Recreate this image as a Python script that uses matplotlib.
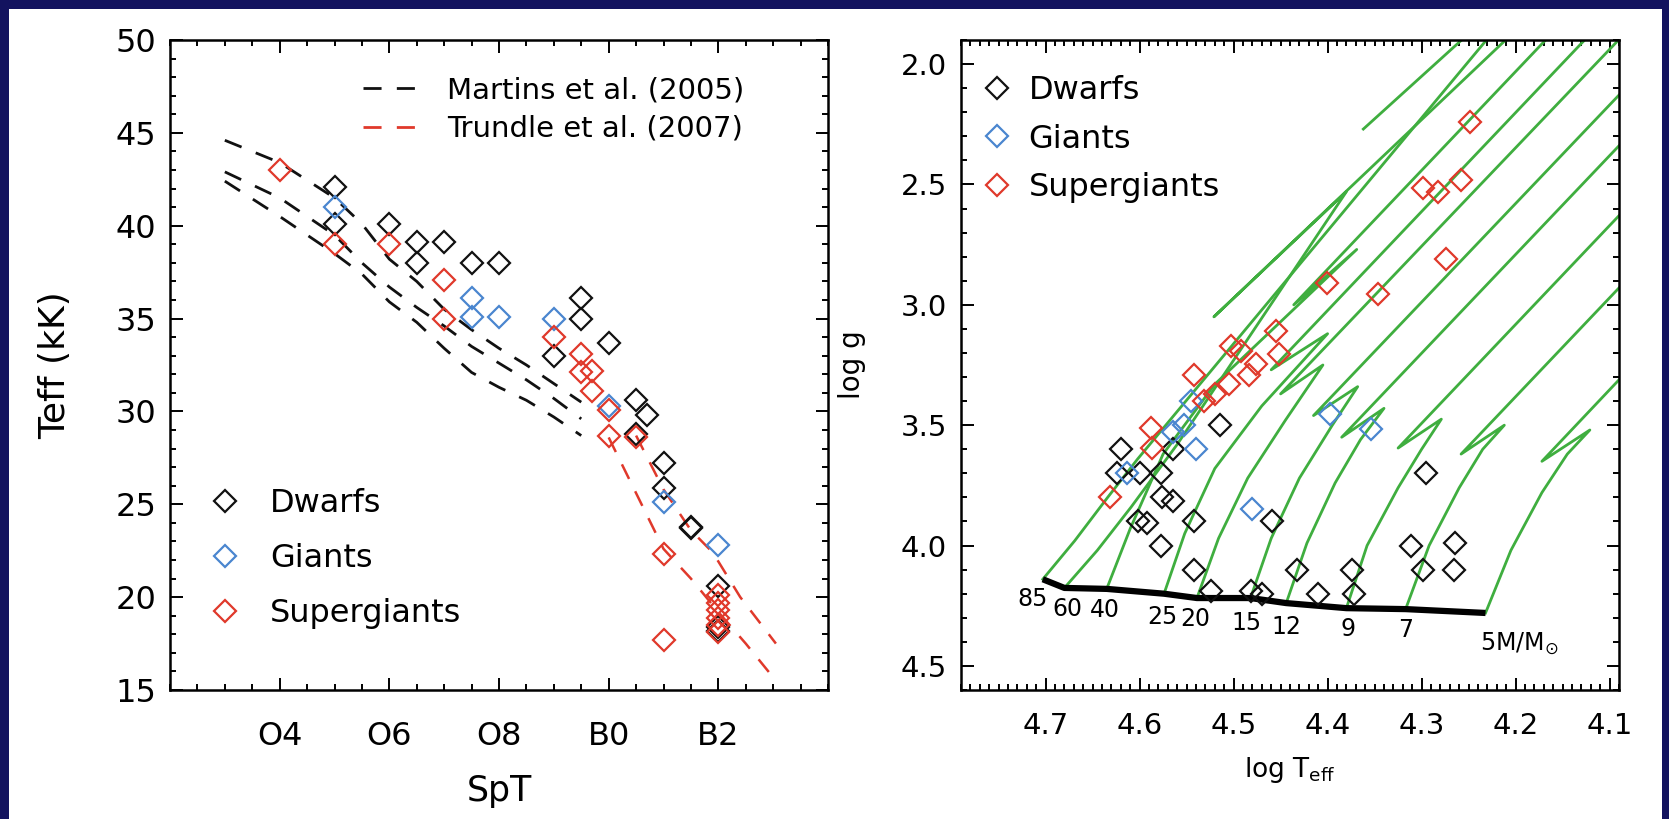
import matplotlib.pyplot as plt
from matplotlib.lines import Line2D
from matplotlib.patches import Rectangle
from matplotlib.ticker import MultipleLocator, FixedLocator, FixedFormatter, FormatStrFormatter

plt.rcParams['font.family'] = ['DejaVu Sans']
plt.rcParams['mathtext.fontset'] = 'dejavusans'

BLACK = '#111111'
BLUE = '#4a86cf'
RED = '#e0392b'
GREEN = '#3fae3f'
NAVY = '#13135f'

# ---- left panel: Teff (kK) against spectral type (O2=2 ... B0=10 ... B4=14)
spt_ticks = [4, 6, 8, 10, 12]
spt_labels = ['O4', 'O6', 'O8', 'B0', 'B2']

dwarf_spt = [5, 5, 6, 6.5, 6.5, 7, 7.5, 8, 9, 9.5, 9.5, 10, 10.5, 10.5, 10.7,
             11, 11, 11.5, 11.5, 12, 12, 12]
dwarf_teff = [42.1, 40.1, 40.1, 39.1, 38.0, 39.1, 38.0, 38.0, 33.0, 36.1, 35.0,
              33.7, 30.6, 28.8, 29.8, 27.2, 25.9, 23.8, 23.7, 20.6, 18.4, 18.2]

giant_spt = [5, 7.5, 7.5, 8, 9, 10, 11, 12]
giant_teff = [41.0, 36.1, 35.1, 35.1, 35.0, 30.3, 25.1, 22.8]

sg_spt = [4, 5, 6, 7, 7, 9, 9.5, 9.5, 9.7, 9.7, 10, 10, 10.5, 11, 11,
          12, 12, 12, 12, 12, 12]
sg_teff = [43.0, 39.0, 39.0, 37.1, 35.0, 34.0, 33.1, 32.1, 32.2, 31.1, 30.1,
           28.7, 28.6, 22.3, 17.7, 20.1, 19.7, 19.3, 18.9, 18.5, 18.1]

# Martins et al. (2005) calibrations
martins_spt = [3, 4, 5, 5.5, 6, 6.5, 7, 7.5, 8, 8.5, 9, 9.5]
martins_v = [44.6, 43.4, 41.5, 40.1, 38.2, 37.0, 35.5, 34.4, 33.4, 32.5, 31.5, 30.5]
martins_iii = [42.9, 41.5, 39.5, 38.0, 36.7, 35.6, 34.6, 33.5, 32.6, 31.7, 30.7, 29.6]
martins_i = [42.4, 40.5, 38.5, 37.4, 35.9, 34.8, 33.4, 32.1, 31.3, 30.6, 29.7, 28.7]

# Trundle et al. (2007) calibrations
trundle_a_spt = [10.5, 11.0, 11.5, 11.9, 12.4, 13.05]
trundle_a_teff = [28.7, 25.8, 23.6, 22.4, 20.0, 17.5]
trundle_b_spt = [10.0, 10.5, 11.0, 11.5, 12.0, 12.5, 13.05]
trundle_b_teff = [28.6, 25.6, 22.6, 21.0, 19.2, 17.5, 15.5]

# ---- right panel: log g against log Teff
dw_logt = [4.620, 4.565, 4.515, 4.624, 4.600, 4.577, 4.576, 4.565, 4.602, 4.592,
           4.542, 4.577, 4.542, 4.524, 4.482, 4.470, 4.459, 4.433, 4.410, 4.374,
           4.372, 4.311, 4.298, 4.264, 4.266, 4.295]
dw_logg = [3.60, 3.60, 3.50, 3.70, 3.70, 3.70, 3.80, 3.815, 3.90, 3.905,
           3.90, 4.00, 4.10, 4.19, 4.19, 4.20, 3.90, 4.10, 4.20, 4.10,
           4.20, 4.00, 4.10, 3.99, 4.10, 3.70]

gi_logt = [4.613, 4.540, 4.553, 4.545, 4.565, 4.397, 4.354, 4.480]
gi_logg = [3.70, 3.60, 3.50, 3.40, 3.53, 3.455, 3.517, 3.85]

sg_logt = [4.248, 4.298, 4.283, 4.258, 4.274, 4.346, 4.401, 4.455, 4.452, 4.492,
           4.503, 4.476, 4.484, 4.505, 4.542, 4.520, 4.531, 4.588, 4.587, 4.632]
sg_logg = [2.24, 2.516, 2.53, 2.48, 2.81, 2.957, 2.91, 3.11, 3.205, 3.19,
           3.17, 3.247, 3.29, 3.33, 3.29, 3.37, 3.40, 3.51, 3.595, 3.80]

# evolutionary tracks (first point = ZAMS)
t85_logt = [4.703, 4.669, 4.634, 4.602, 4.150, 4.362]
t85_logg = [4.140, 3.980, 3.800, 3.640, 1.520, 2.270]
t60_logt = [4.680, 4.645, 4.609, 4.560, 4.380, 4.521, 4.100]
t60_logg = [4.176, 4.020, 3.840, 3.580, 2.530, 3.050, 1.490]
t40_logt = [4.635, 4.610, 4.575, 4.520, 4.369, 4.436, 4.000]
t40_logg = [4.180, 3.930, 3.620, 3.330, 2.770, 3.000, 1.210]
t25_logt = [4.574, 4.552, 4.520, 4.470, 4.400, 4.460, 4.000]
t25_logg = [4.200, 3.950, 3.680, 3.420, 3.120, 3.270, 1.380]
t20_logt = [4.539, 4.516, 4.485, 4.445, 4.405, 4.450, 4.000]
t20_logg = [4.218, 3.970, 3.720, 3.480, 3.250, 3.370, 1.530]
t15_logt = [4.482, 4.460, 4.430, 4.395, 4.368, 4.415, 4.000]
t15_logg = [4.218, 3.970, 3.720, 3.500, 3.340, 3.460, 1.760]
t12_logt = [4.444, 4.422, 4.392, 4.365, 4.340, 4.385, 4.000]
t12_logg = [4.239, 3.990, 3.740, 3.560, 3.430, 3.550, 1.970]
t9_logt = [4.380, 4.358, 4.325, 4.300, 4.279, 4.325, 4.000]
t9_logg = [4.260, 4.000, 3.760, 3.600, 3.475, 3.595, 2.260]
t7_logt = [4.317, 4.292, 4.260, 4.235, 4.212, 4.258, 4.000]
t7_logg = [4.264, 4.000, 3.760, 3.600, 3.500, 3.620, 2.560]
t5_logt = [4.232, 4.205, 4.172, 4.145, 4.121, 4.172, 4.000]
t5_logg = [4.280, 4.020, 3.780, 3.620, 3.520, 3.650, 2.940]

mass_labels = ['85', '60', '40', '25', '20', '15', '12', '9', '7', r'5M/M$_{\odot}$']

tracks = [(t85_logt, t85_logg), (t60_logt, t60_logg), (t40_logt, t40_logg),
          (t25_logt, t25_logg), (t20_logt, t20_logg), (t15_logt, t15_logg),
          (t12_logt, t12_logg), (t9_logt, t9_logg), (t7_logt, t7_logg),
          (t5_logt, t5_logg)]

fig = plt.figure(figsize=(16.69, 8.19), dpi=100)
fig.patch.set_facecolor(NAVY)
fig.add_artist(Rectangle((9 / 1669, 0), (1669 - 16) / 1669, (819 - 9) / 819,
                         transform=fig.transFigure, facecolor='white',
                         edgecolor='none', zorder=-1))

ax1 = fig.add_axes([170 / 1669, 1 - 690 / 819, 658 / 1669, 650 / 819])
ax2 = fig.add_axes([961 / 1669, 1 - 690 / 819, 658 / 1669, 650 / 819])

dash = (6.5, 5.5)
mk = dict(ls='none', marker='D', ms=11.5, mfc='none', mew=1.6)

# left panel
for teff in (martins_v, martins_iii, martins_i):
    ax1.plot(martins_spt, teff, color=BLACK, lw=2.0, dashes=dash)
ax1.plot(trundle_a_spt, trundle_a_teff, color=RED, lw=1.8, dashes=dash)
ax1.plot(trundle_b_spt, trundle_b_teff, color=RED, lw=1.8, dashes=dash)

ax1.plot(dwarf_spt, dwarf_teff, mec=BLACK, **mk)
ax1.plot(giant_spt, giant_teff, mec=BLUE, **mk)
ax1.plot(sg_spt, sg_teff, mec=RED, **mk)

ax1.set_xlim(2, 14)
ax1.set_ylim(15, 50)
ax1.xaxis.set_major_locator(FixedLocator(spt_ticks))
ax1.xaxis.set_major_formatter(FixedFormatter(spt_labels))
ax1.xaxis.set_minor_locator(MultipleLocator(0.5))
ax1.yaxis.set_major_locator(MultipleLocator(5))
ax1.yaxis.set_minor_locator(MultipleLocator(1))
ax1.tick_params(axis='x', which='major', pad=22)
ax1.tick_params(axis='y', which='major', pad=10)
ax1.tick_params(which='both', labelsize=23)
ax1.set_xlabel('SpT', fontsize=25)
ax1.set_ylabel('Teff (kK)', fontsize=26)
ax1.xaxis.set_label_coords(0.5, -0.13)
ax1.yaxis.set_label_coords(-0.148, 0.5)

line_handles = [Line2D([], [], color=BLACK, lw=2.0, dashes=dash),
                Line2D([], [], color=RED, lw=2.0, dashes=dash)]
leg1 = ax1.legend(line_handles, ['Martins et al. (2005)', 'Trundle et al. (2007)'],
                  loc='upper left', bbox_to_anchor=(0.293, 0.944), frameon=False,
                  fontsize=21, handlelength=2.2, handletextpad=0.7,
                  labelspacing=0.36, borderpad=0, borderaxespad=0)
ax1.add_artist(leg1)

sym_handles = [Line2D([], [], mec=c, **mk) for c in (BLACK, BLUE, RED)]
ax1.legend(sym_handles, ['Dwarfs', 'Giants', 'Supergiants'], loc='upper left',
           bbox_to_anchor=(0.06, 0.31), frameon=False, fontsize=23,
           handlelength=1.0, handletextpad=0.9, labelspacing=0.74,
           borderpad=0, borderaxespad=0, numpoints=1)

# right panel
for logt, logg in tracks:
    ax2.plot(logt, logg, color=GREEN, lw=2.0, zorder=2)

zams_logt = [t[0] for t, g in tracks]
zams_logg = [g[0] for t, g in tracks]
ax2.plot(zams_logt, zams_logg, color='black', lw=4.5, solid_capstyle='butt', zorder=3)

label_offsets = [(-7, -14), (2, -15), (-1, -15), (-1, -17), (-1, -15),
                 (-3, -18), (0, -17), (1, -15), (0, -15), (-4, -22)]
for lab, x, y, off in zip(mass_labels, zams_logt, zams_logg, label_offsets):
    ax2.annotate(lab, (x, y), xytext=off, textcoords='offset points',
                 ha='left' if lab.startswith('5M') else 'center', va='center',
                 fontsize=17, zorder=4)

ax2.plot(dw_logt, dw_logg, mec=BLACK, zorder=5, **mk)
ax2.plot(gi_logt, gi_logg, mec=BLUE, zorder=5, **mk)
ax2.plot(sg_logt, sg_logg, mec=RED, zorder=5, **mk)

ax2.set_xlim(4.79, 4.09)
ax2.set_ylim(4.6, 1.9)
ax2.xaxis.set_major_locator(MultipleLocator(0.1))
ax2.xaxis.set_minor_locator(MultipleLocator(0.01))
ax2.yaxis.set_major_locator(MultipleLocator(0.5))
ax2.yaxis.set_minor_locator(MultipleLocator(0.1))
ax2.xaxis.set_major_formatter(FormatStrFormatter('%.1f'))
ax2.yaxis.set_major_formatter(FormatStrFormatter('%.1f'))
ax2.tick_params(axis='x', which='major', pad=16)
ax2.tick_params(axis='y', which='major', pad=10)
ax2.tick_params(which='both', labelsize=21)
ax2.set_xlabel(r'log T$_{\rm eff}$', fontsize=19)
ax2.set_ylabel('log g', fontsize=20)
ax2.xaxis.set_label_coords(0.5, -0.1)
ax2.yaxis.set_label_coords(-0.145, 0.5)

ax2.legend(sym_handles, ['Dwarfs', 'Giants', 'Supergiants'], loc='upper left',
           bbox_to_anchor=(0.03, 0.946), frameon=False, fontsize=23,
           handlelength=1.0, handletextpad=0.5, labelspacing=0.55,
           borderpad=0, borderaxespad=0, numpoints=1)

for ax in (ax1, ax2):
    ax.tick_params(which='both', direction='in', top=True, right=True,
                   width=1.4, color='black')
    ax.tick_params(which='major', length=9)
    ax.tick_params(which='minor', length=4.5)
    for sp in ax.spines.values():
        sp.set_linewidth(1.8)

fig.savefig('out.png', dpi=100, facecolor=fig.get_facecolor())
